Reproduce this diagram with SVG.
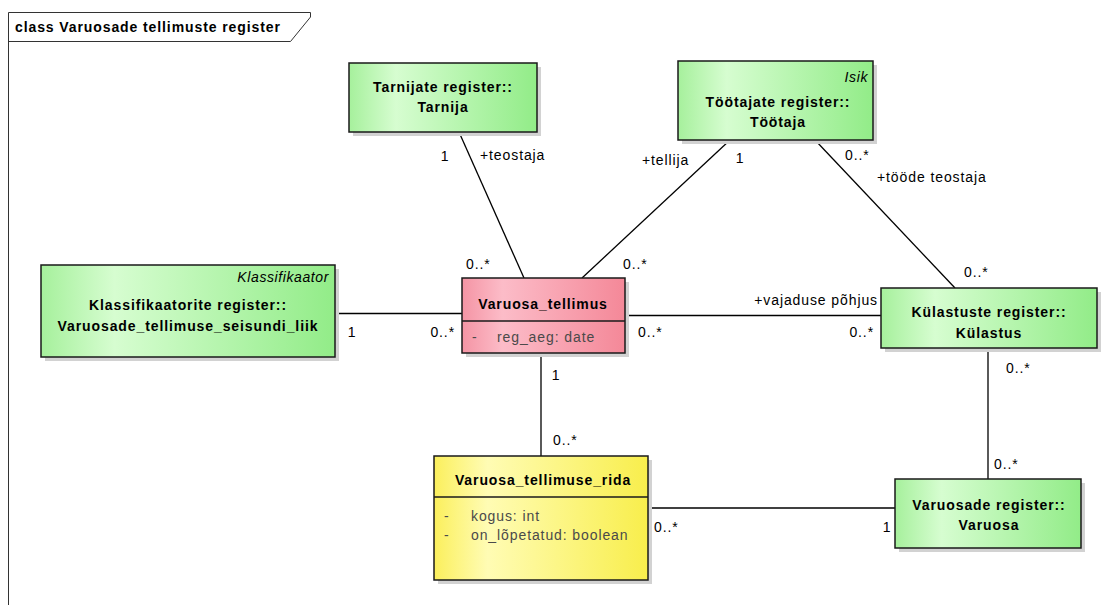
<svg xmlns="http://www.w3.org/2000/svg" width="1120" height="605" viewBox="0 0 1120 605">
  <defs>
    <linearGradient id="gGreen" x1="0" y1="0" x2="1" y2="0">
      <stop offset="0" stop-color="#a6f09c"/>
      <stop offset="0.25" stop-color="#d6fdd0"/>
      <stop offset="1" stop-color="#92ec88"/>
    </linearGradient>
    <linearGradient id="gPink" x1="0" y1="0" x2="1" y2="0">
      <stop offset="0" stop-color="#f494a4"/>
      <stop offset="0.25" stop-color="#fcbcc8"/>
      <stop offset="1" stop-color="#f48898"/>
    </linearGradient>
    <linearGradient id="gYellow" x1="0" y1="0" x2="1" y2="0">
      <stop offset="0" stop-color="#fbef5c"/>
      <stop offset="0.25" stop-color="#fffcb4"/>
      <stop offset="1" stop-color="#f8ee4c"/>
    </linearGradient>
    <style>
      text { font-family: "Liberation Sans", Arial, sans-serif; fill: #000; }
      .title { font-size: 14px; font-weight: bold; letter-spacing: 0.9px; }
      .name { font-size: 14px; font-weight: bold; letter-spacing: 0.9px; text-anchor: middle; }
      .stereo { font-size: 14px; font-style: italic; letter-spacing: 0.6px; text-anchor: end; }
      .attr { font-size: 14px; letter-spacing: 0.9px; fill: #4a4a4a; }
      .lbl { font-size: 14px; letter-spacing: 0.9px; }
      .end { text-anchor: end; }
      .mid { text-anchor: middle; }
      .box { stroke: #1a1a1a; stroke-width: 1.5; }
      .shadow { fill: #d2d2d2; }
      .frame { fill: none; stroke: #333; stroke-width: 1; }
      .conn { fill: none; stroke: #000; stroke-width: 1.3; }
    </style>
  </defs>

  <rect width="1120" height="605" fill="#fff"/>

  <!-- diagram frame with name tab -->
  <g id="frame">
    <path class="frame" d="M8.5 605 V12.5 H310.5 V17 L290.5 41.5 H8.5"/>
    <text class="title" x="15" y="32">class Varuosade tellimuste register</text>
  </g>

  <!-- associations -->
  <g id="connectors">
    <line class="conn" x1="459" y1="132" x2="524" y2="278"/>
    <line class="conn" x1="730" y1="140" x2="582" y2="278"/>
    <line class="conn" x1="815" y1="140" x2="955" y2="288"/>
    <line class="conn" x1="335" y1="313.5" x2="462" y2="313.5"/>
    <line class="conn" x1="625" y1="315.5" x2="881" y2="315.5"/>
    <line class="conn" x1="541" y1="353" x2="541" y2="456"/>
    <line class="conn" x1="988" y1="348" x2="988" y2="479"/>
    <line class="conn" x1="648" y1="508" x2="895" y2="508"/>

    <text class="lbl mid" x="445" y="161">1</text>
    <text class="lbl" x="480" y="160">+teostaja</text>
    <text class="lbl" x="466" y="269">0..*</text>

    <text class="lbl" x="642" y="165">+tellija</text>
    <text class="lbl mid" x="740" y="163">1</text>
    <text class="lbl" x="623" y="269">0..*</text>

    <text class="lbl" x="845" y="160">0..*</text>
    <text class="lbl" x="877" y="182">+tööde teostaja</text>
    <text class="lbl" x="964" y="277">0..*</text>

    <text class="lbl mid" x="352" y="337">1</text>
    <text class="lbl end" x="455" y="337">0..*</text>

    <text class="lbl end" x="878" y="305">+vajaduse põhjus</text>
    <text class="lbl" x="638" y="337">0..*</text>
    <text class="lbl end" x="874" y="337">0..*</text>

    <text class="lbl mid" x="556" y="380">1</text>
    <text class="lbl" x="553" y="445">0..*</text>

    <text class="lbl" x="1006" y="373">0..*</text>
    <text class="lbl" x="994" y="469">0..*</text>

    <text class="lbl" x="654" y="532">0..*</text>
    <text class="lbl mid" x="887" y="532">1</text>
  </g>

  <g id="tarnija">
    <rect class="shadow" x="353" y="67" width="188" height="69"/>
    <rect class="box" x="349" y="63" width="188" height="69" fill="url(#gGreen)"/>
    <text class="name" x="443" y="92">Tarnijate register::</text>
    <text class="name" x="443" y="112">Tarnija</text>
  </g>

  <g id="tootaja">
    <rect class="shadow" x="682" y="65" width="195" height="79"/>
    <rect class="box" x="678" y="61" width="195" height="79" fill="url(#gGreen)"/>
    <text class="stereo" x="868" y="82">Isik</text>
    <text class="name" x="778" y="107">Töötajate register::</text>
    <text class="name" x="778" y="127">Töötaja</text>
  </g>

  <g id="klassifikaator">
    <rect class="shadow" x="45" y="269" width="294" height="92"/>
    <rect class="box" x="41" y="265" width="294" height="92" fill="url(#gGreen)"/>
    <text class="stereo" x="329" y="282">Klassifikaator</text>
    <text class="name" x="188" y="310">Klassifikaatorite register::</text>
    <text class="name" x="188" y="331">Varuosade_tellimuse_seisundi_liik</text>
  </g>

  <g id="varuosa-tellimus">
    <rect class="shadow" x="466" y="282" width="163" height="75"/>
    <rect class="box" x="462" y="278" width="163" height="75" fill="url(#gPink)"/>
    <line class="box" x1="462" y1="321" x2="625" y2="321"/>
    <text class="name" x="543" y="309">Varuosa_tellimus</text>
    <text class="attr" x="472" y="342">-</text>
    <text class="attr" x="497" y="342">reg_aeg: date</text>
  </g>

  <g id="kulastus">
    <rect class="shadow" x="885" y="292" width="216" height="60"/>
    <rect class="box" x="881" y="288" width="216" height="60" fill="url(#gGreen)"/>
    <text class="name" x="989" y="317">Külastuste register::</text>
    <text class="name" x="989" y="338">Külastus</text>
  </g>

  <g id="varuosa-tellimuse-rida">
    <rect class="shadow" x="438" y="460" width="214" height="124"/>
    <rect class="box" x="434" y="456" width="214" height="124" fill="url(#gYellow)"/>
    <line class="box" x1="434" y1="497" x2="648" y2="497"/>
    <text class="name" x="543" y="485">Varuosa_tellimuse_rida</text>
    <text class="attr" x="444" y="521">-</text>
    <text class="attr" x="471" y="521">kogus: int</text>
    <text class="attr" x="444" y="540">-</text>
    <text class="attr" x="471" y="540">on_lõpetatud: boolean</text>
  </g>

  <g id="varuosa">
    <rect class="shadow" x="899" y="483" width="186" height="69"/>
    <rect class="box" x="895" y="479" width="186" height="69" fill="url(#gGreen)"/>
    <text class="name" x="989" y="510">Varuosade register::</text>
    <text class="name" x="989" y="530">Varuosa</text>
  </g>
</svg>
